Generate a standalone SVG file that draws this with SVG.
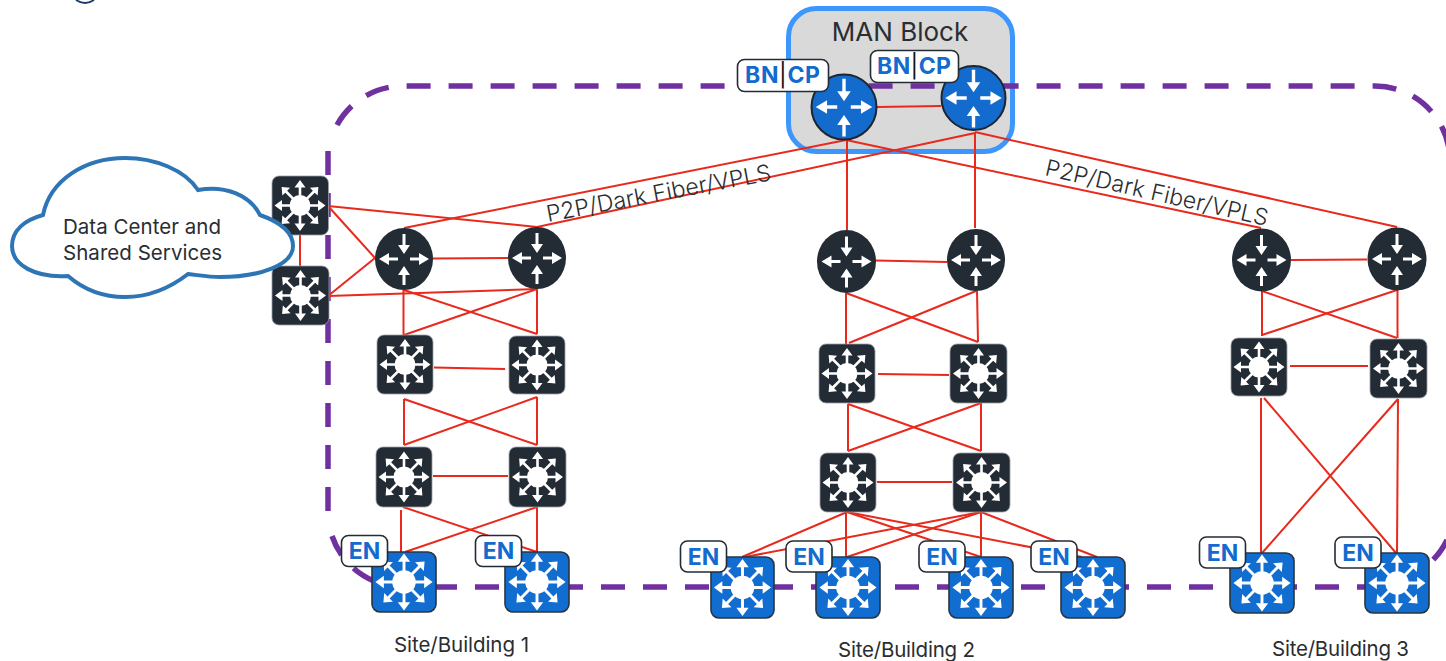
<svg xmlns="http://www.w3.org/2000/svg" xmlns:xlink="http://www.w3.org/1999/xlink" width="1446" height="661" viewBox="0 0 1446 661">
<style>
text{font-family:"Inter","Liberation Sans",sans-serif;fill:#2a2d31}
.dash{fill:none;stroke:#7030a0;stroke-width:5.5;stroke-dasharray:24 18}
.red line,line.red{stroke:#e8291c;stroke-width:2}
.rk{fill:#232b34}
.rb{fill:#126bcd;stroke:#1d2630;stroke-width:2}
.sk{fill:#232b34;stroke:#9aa0a6;stroke-width:.8}
.sb{fill:#126dd1;stroke:#2a3540;stroke-width:1.6}
.tag{fill:#fff;stroke:#232b34;stroke-width:1.6}
.w{fill:#fff}
.en{font-weight:700;font-size:23px;fill:#126bcd;text-anchor:middle}
.bc{font-weight:700;font-size:23px;fill:#126bcd}
.bar{font-weight:400;fill:#111}
.site{font-size:20.5px}
.p2p{font-size:23px;font-weight:300}
</style>
<defs>
<g id="rt" class="w">
<path d="M-1.5 -25H1.5V-14H6L0 -5L-6 -14H-1.500Z"/>
<path d="M0 7L6 16H1.500V26H-1.500V16H-6Z"/>
<path d="M-25 0L-15 -6V-1.500H-6V1.500H-15V6Z"/>
<path d="M25 0L15 -6V-1.500H6V1.500H15V6Z"/>
</g>
<path id="a1" d="M0 -25.500L5.500 -18H1.300V-8H-1.300V-18H-5.500Z"/>
<path id="a2" d="M0 -26L5.500 -19.500H1.300V-8H-1.300V-19.500H-5.500Z"/>
<g id="sw" class="w">
<circle r="10.500"/>
<use href="#a1"/><use href="#a1" transform="rotate(90)"/><use href="#a1" transform="rotate(180)"/><use href="#a1" transform="rotate(270)"/>
<use href="#a2" transform="rotate(45)"/><use href="#a2" transform="rotate(135)"/><use href="#a2" transform="rotate(225)"/><use href="#a2" transform="rotate(315)"/>
</g>
</defs>
<rect width="1446" height="661" fill="#fff"/>
<path d="M76 0Q85 6 94 0" fill="none" stroke="#1d3a6b" stroke-width="2"/>

<g id="man-block"><rect x="788.500" y="8.500" width="224" height="143" rx="28" fill="#d9d9d9" stroke="#3d96fb" stroke-width="5"/>
<text x="900" y="41" font-size="26" text-anchor="middle">MAN Block</text></g>

<g id="fabric-boundary">
<path class="dash" d="M337 125A75 75 0 0 1 403 86H1375A75 75 0 0 1 1450 161"/>
<path class="dash" d="M1381 587H403A75 75 0 0 1 332 536"/>
<path class="dash" d="M328 511V147"/>
<path class="dash" d="M1447 540A75 75 0 0 1 1432 561"/>
</g>

<g id="connectors" class="red">
<line x1="877" y1="107" x2="941" y2="106"/>
<line x1="846" y1="140" x2="404" y2="228"/>
<line x1="975" y1="133" x2="537" y2="227"/>
<line x1="846" y1="140" x2="1261" y2="228"/>
<line x1="975" y1="132" x2="1397" y2="227"/>
<line x1="847" y1="140" x2="847" y2="230"/>
<line x1="975" y1="132" x2="975" y2="228"/>
<line x1="328" y1="206" x2="375" y2="258"/>
<line x1="328" y1="296" x2="375" y2="258"/>
<line x1="328" y1="206" x2="537" y2="227"/>
<line x1="328" y1="296" x2="537" y2="289"/>
<line x1="300" y1="235" x2="300" y2="266"/>
<line x1="433" y1="258.500" x2="508" y2="258"/>
<line x1="403.500" y1="290" x2="403.500" y2="335"/>
<line x1="404" y1="290" x2="537" y2="334"/>
<line x1="537" y1="289" x2="404" y2="335"/>
<line x1="537" y1="289" x2="537" y2="334"/>
<line x1="434" y1="367.500" x2="505" y2="369"/>
<line x1="404" y1="399" x2="404" y2="445"/>
<line x1="404" y1="399" x2="537" y2="445"/>
<line x1="537" y1="397" x2="404" y2="445"/>
<line x1="537" y1="397" x2="537" y2="445"/>
<line x1="433" y1="476" x2="508" y2="476"/>
<line x1="401" y1="510" x2="401" y2="552"/>
<line x1="403" y1="507" x2="537" y2="552"/>
<line x1="537" y1="507" x2="405" y2="552"/>
<line x1="537" y1="507" x2="537" y2="552"/>
<line x1="876" y1="260.500" x2="947" y2="262"/>
<line x1="846" y1="293" x2="846" y2="344"/>
<line x1="846" y1="293" x2="978" y2="342"/>
<line x1="976" y1="291" x2="849" y2="343"/>
<line x1="977" y1="291" x2="978" y2="342"/>
<line x1="878" y1="374" x2="949" y2="375"/>
<line x1="848" y1="404" x2="848" y2="451"/>
<line x1="848" y1="404" x2="981" y2="451"/>
<line x1="981" y1="403" x2="848" y2="451"/>
<line x1="981" y1="403" x2="981" y2="451"/>
<line x1="877" y1="482" x2="952" y2="482"/>
<line x1="847" y1="512" x2="742" y2="557"/>
<line x1="846" y1="512" x2="846" y2="557"/>
<line x1="847" y1="512" x2="981" y2="557"/>
<line x1="847" y1="512" x2="1082" y2="557"/>
<line x1="981" y1="512" x2="745" y2="557"/>
<line x1="981" y1="512" x2="847" y2="557"/>
<line x1="981" y1="512" x2="981" y2="557"/>
<line x1="981" y1="512" x2="1097" y2="557"/>
<line x1="1291" y1="260" x2="1367" y2="259.500"/>
<line x1="1262" y1="291" x2="1262" y2="336"/>
<line x1="1262" y1="291" x2="1397" y2="338"/>
<line x1="1397" y1="290" x2="1262" y2="335"/>
<line x1="1397.500" y1="290" x2="1397.500" y2="338"/>
<line x1="1290" y1="366" x2="1368" y2="366"/>
<line x1="1261" y1="398" x2="1261" y2="553"/>
<line x1="1264" y1="398" x2="1396" y2="553"/>
<line x1="1398" y1="399" x2="1262" y2="553"/>
<line x1="1398" y1="399" x2="1397" y2="553"/>
</g>

<g id="link-labels">
<text class="p2p" transform="translate(548 222) rotate(-10.600)" textLength="228">P2P/Dark Fiber/VPLS</text>
<text class="p2p" transform="translate(1044 175) rotate(12.900)" textLength="228">P2P/Dark Fiber/VPLS</text>
</g>

<g id="dc-switch-1"><rect class="sk" x="272" y="176" width="56.500" height="59" rx="7"/><use href="#sw" x="300" y="205.500"/></g>
<g id="dc-switch-2"><rect class="sk" x="272" y="266" width="57" height="59" rx="7"/><use href="#sw" x="300.500" y="295.500"/></g>

<g id="cloud"><path d="M43 215C50 180 85 158 125 158C155 158 185 170 198 190C225 185 250 195 260 215C280 222 293 232 293 246C293 265 260 277 220 277C208 277 198 275 188 274C170 288 150 297 125 297C103 297 83 289 68 276C35 278 12 265 12 246C12 230 25 220 43 215Z" fill="#fff" stroke="#2e75b6" stroke-width="4"/>
<text x="63" y="234" font-size="20.500" textLength="158">Data Center and</text>
<text x="63" y="260" font-size="20.500" textLength="159">Shared Services</text></g>

<g id="man-router-1"><circle class="rb" cx="844" cy="107" r="32.500"/><use href="#rt" transform="translate(844 107) scale(1.130)"/>
<rect class="tag" x="737.500" y="59.500" width="91" height="32" rx="7"/>
<text class="bc" x="745" y="83" textLength="75">BN<tspan class="bar">|</tspan>CP</text></g>
<g id="man-router-2"><circle class="rb" cx="973.500" cy="98" r="32"/><use href="#rt" transform="translate(973.500 98) scale(1.130)"/>
<rect class="tag" x="870.500" y="50.500" width="88" height="32" rx="7"/>
<text class="bc" x="877" y="74" textLength="74">BN<tspan class="bar">|</tspan>CP</text></g>

<g id="s1-router-1"><ellipse class="rk" cx="404" cy="259" rx="29" ry="31"/><use href="#rt" x="404" y="259"/></g>
<g id="s1-router-2"><ellipse class="rk" cx="537" cy="258" rx="29" ry="31"/><use href="#rt" x="537" y="258"/></g>
<g id="s2-router-1"><ellipse class="rk" cx="846.500" cy="261.500" rx="29.500" ry="31.500"/><use href="#rt" x="846.500" y="261.500"/></g>
<g id="s2-router-2"><ellipse class="rk" cx="976" cy="260" rx="29" ry="31"/><use href="#rt" x="976" y="260"/></g>
<g id="s3-router-1"><ellipse class="rk" cx="1261.500" cy="260" rx="29.500" ry="31.500"/><use href="#rt" x="1261.500" y="260"/></g>
<g id="s3-router-2"><ellipse class="rk" cx="1397" cy="259" rx="29.500" ry="31.500"/><use href="#rt" x="1397" y="259"/></g>

<g id="s1-dist-1"><rect class="sk" x="377" y="335" width="56" height="59" rx="7"/><use href="#sw" x="405" y="364.500"/></g>
<g id="s1-dist-2"><rect class="sk" x="509" y="336" width="56" height="58" rx="7"/><use href="#sw" x="537" y="365"/></g>
<g id="s1-access-1"><rect class="sk" x="376" y="447" width="56" height="60" rx="7"/><use href="#sw" x="404" y="477"/></g>
<g id="s1-access-2"><rect class="sk" x="509" y="447" width="57" height="60" rx="7"/><use href="#sw" x="537.500" y="477"/></g>
<g id="s2-dist-1"><rect class="sk" x="819" y="344" width="56" height="59" rx="7"/><use href="#sw" x="847" y="373.500"/></g>
<g id="s2-dist-2"><rect class="sk" x="950" y="344" width="57" height="59" rx="7"/><use href="#sw" x="978.500" y="373.500"/></g>
<g id="s2-access-1"><rect class="sk" x="820" y="453" width="56" height="59" rx="7"/><use href="#sw" x="848" y="482.500"/></g>
<g id="s2-access-2"><rect class="sk" x="953" y="453" width="57" height="59" rx="7"/><use href="#sw" x="981.500" y="482.500"/></g>
<g id="s3-dist-1"><rect class="sk" x="1231" y="338" width="56" height="58" rx="7"/><use href="#sw" x="1259" y="367"/></g>
<g id="s3-dist-2"><rect class="sk" x="1370" y="339" width="57" height="59" rx="7"/><use href="#sw" x="1398.500" y="368.500"/></g>

<g id="s1-en-1"><rect class="sb" x="372" y="552" width="64" height="60" rx="8"/><use href="#sw" transform="translate(404 582) scale(1.120)"/><rect class="tag" x="341.500" y="535.500" width="46" height="31" rx="7"/><text class="en" x="364.500" y="559">EN</text></g>
<g id="s1-en-2"><rect class="sb" x="505" y="552" width="64" height="60" rx="8"/><use href="#sw" transform="translate(537 582) scale(1.120)"/><rect class="tag" x="475.500" y="535.500" width="46" height="31" rx="7"/><text class="en" x="498.500" y="559">EN</text></g>
<g id="s2-en-1"><rect class="sb" x="711" y="557" width="63" height="61" rx="8"/><use href="#sw" transform="translate(742.500 587.500) scale(1.120)"/><rect class="tag" x="680.500" y="541" width="46" height="31" rx="7"/><text class="en" x="703.500" y="564.500">EN</text></g>
<g id="s2-en-2"><rect class="sb" x="816" y="557" width="64" height="61" rx="8"/><use href="#sw" transform="translate(848 587.500) scale(1.120)"/><rect class="tag" x="786" y="541" width="46" height="31" rx="7"/><text class="en" x="809" y="564.500">EN</text></g>
<g id="s2-en-3"><rect class="sb" x="949" y="557" width="64" height="61" rx="8"/><use href="#sw" transform="translate(981 587.500) scale(1.120)"/><rect class="tag" x="919" y="541" width="46" height="31" rx="7"/><text class="en" x="942" y="564.500">EN</text></g>
<g id="s2-en-4"><rect class="sb" x="1061" y="557" width="64" height="61" rx="8"/><use href="#sw" transform="translate(1093 587.500) scale(1.120)"/><rect class="tag" x="1031" y="541" width="46" height="31" rx="7"/><text class="en" x="1054" y="564.500">EN</text></g>
<g id="s3-en-1"><rect class="sb" x="1230" y="553" width="64" height="60" rx="8"/><use href="#sw" transform="translate(1262 583) scale(1.120)"/><rect class="tag" x="1199.500" y="537" width="46" height="31" rx="7"/><text class="en" x="1222.500" y="560.500">EN</text></g>
<g id="s3-en-2"><rect class="sb" x="1365" y="553" width="64" height="60" rx="8"/><use href="#sw" transform="translate(1397 583) scale(1.120)"/><rect class="tag" x="1335" y="537" width="46" height="31" rx="7"/><text class="en" x="1358" y="560.500">EN</text></g>

<g id="site-labels">
<text class="site" x="394" y="652" textLength="135">Site/Building 1</text>
<text class="site" x="838" y="657" textLength="137">Site/Building 2</text>
<text class="site" x="1272" y="656" textLength="137">Site/Building 3</text>
</g>
</svg>
